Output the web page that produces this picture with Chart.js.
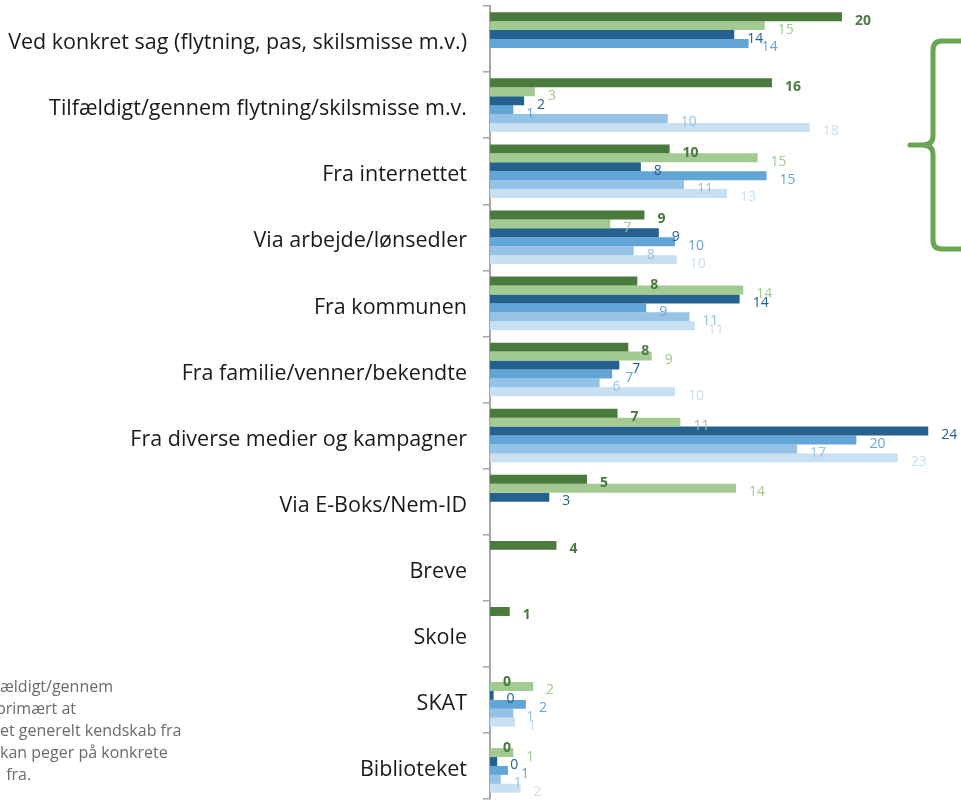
<!DOCTYPE html>
<html>
<head>
<meta charset="utf-8">
<script src="https://cdn.jsdelivr.net/npm/chart.js@4"></script>
<style>
  html, body { margin: 0; padding: 0; background: #fff; }
  #wrap { width: 961px; height: 805px; position: relative; }
</style>
</head>
<body>
<div id="wrap"><canvas id="chart"></canvas></div>
<script>
const categories = [
  "Ved konkret sag (flytning, pas, skilsmisse m.v.)",
  "Tilfældigt/gennem flytning/skilsmisse m.v.",
  "Fra internettet",
  "Via arbejde/lønsedler",
  "Fra kommunen",
  "Fra familie/venner/bekendte",
  "Fra diverse medier og kampagner",
  "Via E-Boks/Nem-ID",
  "Breve",
  "Skole",
  "SKAT",
  "Biblioteket"
];

// values (labels show them rounded)
const darkGreen  = [19.6, 15.7, 10.0, 8.6, 8.2, 7.7, 7.1, 5.4, 3.7, 1.1, 0, 0];
const lightGreen = [15.3, 2.5, 14.9, 6.7, 14.1, 9.0, 10.6, 13.7, null, null, 2.4, 1.3];
const darkBlue   = [13.6, 1.9, 8.4, 9.4, 13.9, 7.2, 24.4, 3.3, null, null, 0.2, 0.4];
const midBlue    = [14.4, 1.3, 15.4, 10.3, 8.7, 6.8, 20.4, null, null, null, 2.0, 1.0];
const lightBlue  = [null, 9.9, 10.8, 8.0, 11.1, 6.1, 17.1, null, null, null, 1.3, 0.6];
const paleBlue   = [null, 17.8, 13.2, 10.4, 11.4, 10.3, 22.7, null, null, null, 1.4, 1.7];

const noteLines = [
  "ældigt/gennem",
  "primært at",
  "et generelt kendskab fra",
  "kan peger på konkrete",
  " fra."
];

const series = [
  { data: darkGreen,  color: "#4a7a3c", bold: true },
  { data: lightGreen, color: "#a2ca91", bold: false },
  { data: darkBlue,   color: "#24618f", bold: false },
  { data: midBlue,    color: "#62a5d7", bold: false },
  { data: lightBlue,  color: "#96c2e5", bold: false },
  { data: paleBlue,   color: "#c9e0f3", bold: false }
];

const FONT = "'Open Sans', 'Noto Sans', sans-serif";

// value labels right of every bar
const valueLabels = {
  id: "valueLabels",
  afterDatasetsDraw(chart) {
    const ctx = chart.ctx;
    ctx.save();
    ctx.textAlign = "left";
    ctx.textBaseline = "middle";
    chart.data.datasets.forEach((ds, i) => {
      const meta = chart.getDatasetMeta(i);
      ctx.fillStyle = ds.backgroundColor;
      ctx.font = (series[i].bold ? "bold 14px " : "14px ") + FONT;
      meta.data.forEach((bar, j) => {
        const v = ds.data[j];
        if (v === null || v === undefined) return;
        ctx.fillText(String(Math.round(v)), bar.x + 13, bar.y + 4);
      });
    });
    ctx.restore();
  }
};

// curly brace on the right and the clipped note text bottom-left
const extras = {
  id: "extras",
  afterDraw(chart) {
    const ctx = chart.ctx;
    ctx.save();
    ctx.strokeStyle = "#69a552";
    ctx.lineWidth = 5;
    ctx.lineCap = "round";
    ctx.lineJoin = "round";
    ctx.beginPath();
    ctx.moveTo(962, 41);
    ctx.lineTo(942, 41);
    ctx.quadraticCurveTo(933, 41, 933, 50);
    ctx.lineTo(933, 136);
    ctx.quadraticCurveTo(933, 145, 922, 145);
    ctx.lineTo(910, 145);
    ctx.moveTo(922, 145);
    ctx.quadraticCurveTo(933, 145, 933, 154);
    ctx.lineTo(933, 240);
    ctx.quadraticCurveTo(933, 249, 942, 249);
    ctx.lineTo(962, 249);
    ctx.stroke();

    ctx.fillStyle = "#6b6b6b";
    ctx.font = "16px " + FONT;
    ctx.textAlign = "left";
    ctx.textBaseline = "middle";
    const xs = [0, -4, 0, 0, 2];
    noteLines.forEach((t, i) => {
      ctx.fillText(t, xs[i], 687 + i * 22);
    });
    ctx.restore();
  }
};

new Chart(document.getElementById("chart"), {
  type: "bar",
  data: {
    labels: categories,
    datasets: series.map((s, i) => ({
      label: "Serie " + (i + 1),
      data: s.data,
      backgroundColor: s.color,
      borderWidth: 0,
      barPercentage: 1,
      categoryPercentage: 0.81
    }))
  },
  options: {
    indexAxis: "y",
    responsive: true,
    maintainAspectRatio: false,
    animation: false,
    layout: { padding: { top: 6, bottom: 6, right: 22, left: 0 } },
    plugins: {
      legend: { display: false },
      tooltip: { enabled: false }
    },
    scales: {
      x: {
        display: false,
        min: 0,
        max: 25
      },
      y: {
        afterFit(scale) {
          scale.width = 490;
          scale.paddingTop = 0;
          scale.paddingBottom = 0;
        },
        border: { display: true, color: "#a6a6a6", width: 2 },
        grid: {
          offset: true,
          drawOnChartArea: false,
          drawTicks: true,
          tickLength: 7,
          color: "#a6a6a6",
          lineWidth: 1.5
        },
        ticks: {
          padding: 16,
          labelOffset: 4,
          color: "#1a1a1a",
          font: { family: FONT, size: 21.5 }
        }
      }
    }
  },
  plugins: [valueLabels, extras]
});
</script>
</body>
</html>
